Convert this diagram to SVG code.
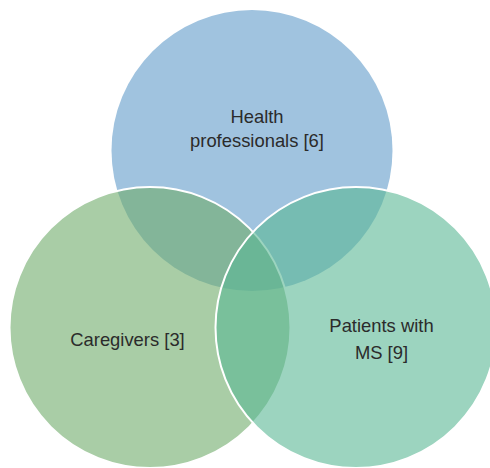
<svg xmlns="http://www.w3.org/2000/svg" width="490" height="468" viewBox="0 0 490 468">
  <style>
    .set { stroke: #ffffff; stroke-width: 2; fill-opacity: 0.6; }
    .label { font-family: "Liberation Sans", Arial, sans-serif; font-size: 18.4px; fill: #2b2b2b; text-anchor: middle; }
  </style>
  <rect width="490" height="468" fill="#ffffff"/>
  <g id="health-professionals">
    <circle cx="252" cy="150.5" r="140.5" fill="#a0c3df"/>
    <text class="label" x="257" y="122.5">Health</text>
    <text class="label" x="257" y="146.5">professionals [6]</text>
  </g>
  <g id="caregivers">
    <circle class="set" cx="150" cy="327.5" r="140.5" fill="#70ac6b"/>
    <text class="label" x="127.5" y="345.5">Caregivers [3]</text>
  </g>
  <g id="patients-with-ms">
    <circle class="set" cx="356" cy="327.5" r="140.5" fill="#5ab794"/>
    <text class="label" x="381.5" y="331.5">Patients with</text>
    <text class="label" x="381.5" y="359">MS [9]</text>
  </g>
  <g id="connectors"/>
</svg>
